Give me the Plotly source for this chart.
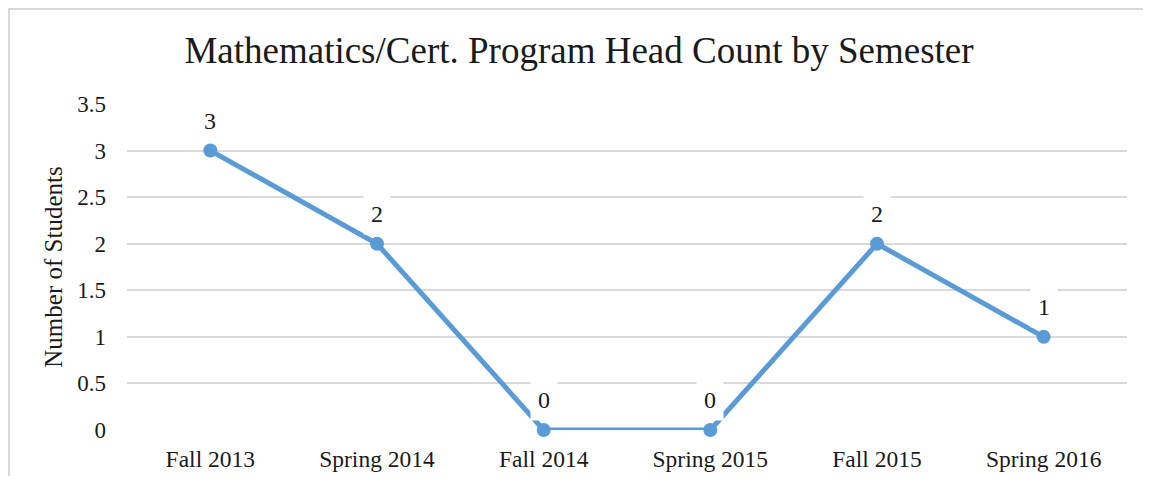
import plotly.graph_objects as go

semesters = ["Fall 2013", "Spring 2014", "Fall 2014", "Spring 2015", "Fall 2015", "Spring 2016"]
head_count = [3, 2, 0, 0, 2, 1]
y_ticks = [0, 0.5, 1, 1.5, 2, 2.5, 3, 3.5]
y_tick_labels = ["0", "0.5", "1", "1.5", "2", "2.5", "3", "3.5"]

FONT = "Liberation Serif, Times New Roman, serif"
BLUE = "#5B9BD5"
GRID = "#D9D9D9"
TXT = "#1a1a1a"

W, H = 1135, 468  # page body has an 8px margin
ML, MR, MT, MB = 119, 16, 96, 46
PW, PH = W - ML - MR, H - MT - MB

fig = go.Figure()
fig.add_trace(go.Scatter(
    x=semesters, y=head_count, mode="lines+markers",
    line=dict(color=BLUE, width=5),
    marker=dict(color=BLUE, size=14),
    showlegend=False, cliponaxis=False,
))

for s, v in zip(semesters, head_count):
    fig.add_annotation(x=s, y=v, text=str(v), showarrow=False,
                       yshift=30, bgcolor="white", borderpad=7,
                       font=dict(family=FONT, size=24, color=TXT))

# chart frame (left and top edges visible, the rest is cropped off)
fig.add_shape(type="rect", xref="paper", yref="paper",
              x0=(-ML + 1) / PW, x1=1.2, y0=-0.6, y1=1 + (MT - 1) / PH,
              line=dict(color=GRID, width=2), fillcolor="rgba(0,0,0,0)", layer="below")

fig.update_layout(
    width=W, height=H,
    margin=dict(l=ML, r=MR, t=MT, b=MB, autoexpand=False),
    paper_bgcolor="white", plot_bgcolor="white",
    title=dict(text="Mathematics/Cert. Program Head Count by Semester",
               x=(579 - 8) / W, xref="container", xanchor="center",
               y=1 - 42 / H, yref="container", yanchor="middle",
               font=dict(family=FONT, size=37, color=TXT)),
    font=dict(family=FONT, color=TXT),
)

fig.update_xaxes(type="category", range=[-0.5, 5.5], showgrid=False,
                 showline=False, zeroline=False, ticks="", automargin=False,
                 ticklabelstandoff=12,
                 tickfont=dict(family=FONT, size=23.5, color=TXT))
fig.update_yaxes(range=[0, 3.5], tickvals=y_ticks, ticktext=y_tick_labels,
                 showgrid=True, gridcolor=GRID, gridwidth=1.5, automargin=False,
                 zeroline=False, showline=False, ticks="",
                 ticklabelstandoff=20,
                 tickfont=dict(family=FONT, size=23, color=TXT),
                 title=dict(text="Number of Students", standoff=7,
                            font=dict(family=FONT, size=25, color=TXT)))

fig.write_html("out.html")
